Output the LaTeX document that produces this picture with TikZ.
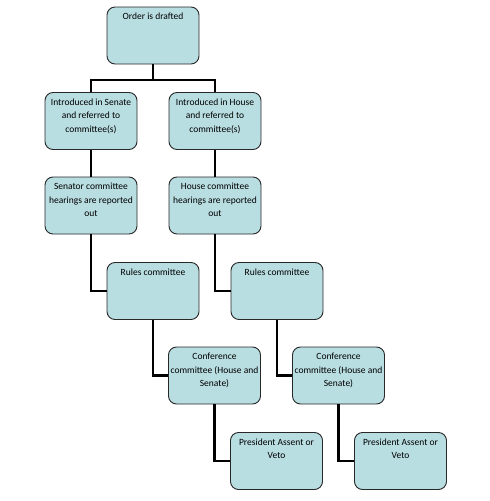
\documentclass[tikz,border=0pt]{standalone}
\usepackage{fontspec}
\setmainfont{Carlito}
\definecolor{boxfill}{RGB}{185,222,226}
\definecolor{boxline}{RGB}{40,40,40}
\newcommand{\boxtxt}[1]{\parbox[c][51pt][t]{92pt}{\centering\fontsize{9.5}{13.6}\selectfont\strut #1}}
\begin{document}
\begin{tikzpicture}[x=1pt,y=-1pt,
  flowbox/.style={draw=boxline, line width=0.9pt, fill=boxfill, rounded corners=8pt, inner xsep=0pt, inner ysep=3pt, anchor=center},
  link/.style={draw=black, line width=2.6pt}]
\useasboundingbox (0,0) rectangle (490,501);
\node[flowbox] (ord) at (153,35.5) {\boxtxt{Order is drafted}};
\node[flowbox] (si) at (91,121) {\boxtxt{Introduced in Senate\\ and referred to\\ committee(s)}};
\node[flowbox] (hi) at (215,121) {\boxtxt{Introduced in House\\ and referred to\\ committee(s)}};
\node[flowbox] (sc) at (91,205.5) {\boxtxt{Senator committee\\ hearings are reported\\ out}};
\node[flowbox] (hc) at (215,205.5) {\boxtxt{House committee\\ hearings are reported\\ out}};
\node[flowbox] (r1) at (153,291) {\boxtxt{Rules committee}};
\node[flowbox] (r2) at (277,291) {\boxtxt{Rules committee}};
\node[flowbox] (c1) at (214.5,375.5) {\boxtxt{Conference\\ committee (House and\\ Senate)}};
\node[flowbox] (c2) at (338.5,375.5) {\boxtxt{Conference\\ committee (House and\\ Senate)}};
\node[flowbox] (p1) at (276.5,461) {\boxtxt{President Assent or\\ Veto}};
\node[flowbox] (p2) at (400.5,461) {\boxtxt{President Assent or\\ Veto}};
\coordinate (j) at (153,80);
\draw[link] (ord.south) -- (j);
\draw[link] (si.north) |- (j) -| (hi.north);
\draw[link] (si) -- (sc);
\draw[link] (hi) -- (hc);
\draw[link] (sc.south) |- (r1.west);
\draw[link] (hc.south) |- (r2.west);
\draw[link] (r1.south) |- (c1.west);
\draw[link] (r2.south) |- (c2.west);
\draw[link] (c1.south) |- (p1.west);
\draw[link] (c2.south) |- (p2.west);
\end{tikzpicture}
\end{document}
